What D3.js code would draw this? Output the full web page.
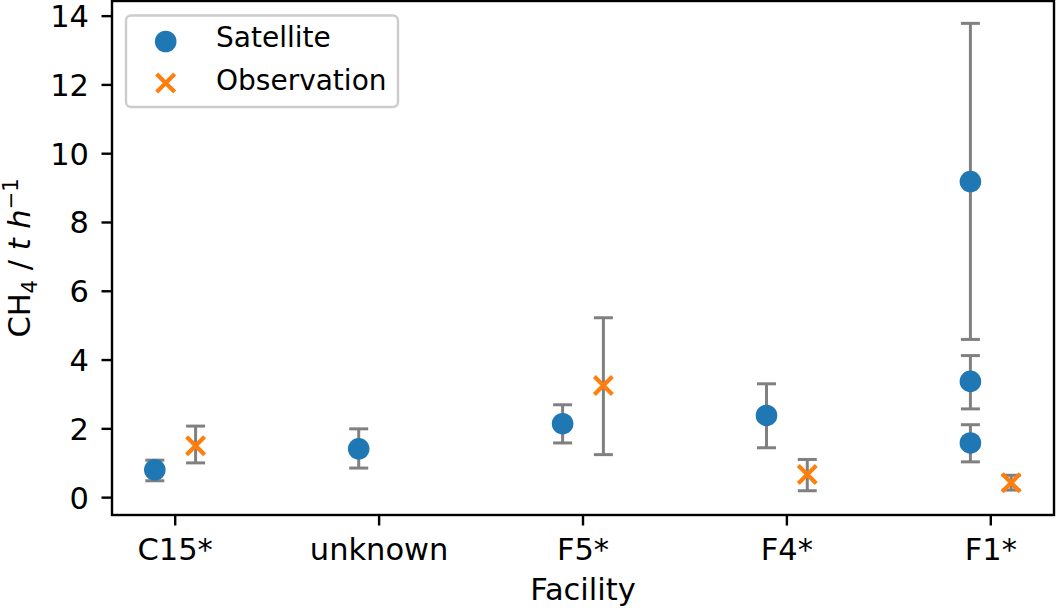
<!DOCTYPE html>
<html>
<head>
<meta charset="utf-8">
<script src="https://cdn.jsdelivr.net/npm/d3@7"></script>
<style>
  body { margin: 0; background: #fff; }
  text { font-family: "DejaVu Sans", sans-serif; fill: #000; }
</style>
</head>
<body>
<svg id="chart" width="1056" height="610"></svg>
<script>
// facilities on the x axis
const categories = ["C15*", "unknown", "F5*", "F4*", "F1*"];

// satellite estimates (index into categories, value, error range)
const satCat = [0, 1, 2, 3, 4, 4, 4];
const satValue = [0.81, 1.42, 2.15, 2.39, 9.19, 3.38, 1.59];
const satLow = [0.49, 0.86, 1.59, 1.45, 4.60, 2.58, 1.04];
const satHigh = [1.09, 2.00, 2.70, 3.31, 13.79, 4.13, 2.12];

// ground observations
const obsCat = [0, 2, 3, 4];
const obsValue = [1.51, 3.26, 0.67, 0.43];
const obsLow = [1.01, 1.25, 0.20, 0.22];
const obsHigh = [2.08, 5.23, 1.11, 0.65];

const yTicks = [0, 2, 4, 6, 8, 10, 12, 14];

const svg = d3.select('#chart');
const pLeft = 112, pRight = 1054, pTop = 1, pBottom = 515;
const fs = 30.5;

let x = d3.scaleLinear().domain([-0.31, 4.31]).range([pLeft, pRight]);
let y = d3.scaleLinear().domain([-0.505, 14.44]).range([pBottom, pTop]);

let sat = satCat.map((c, i) => ({x: c - 0.1, v: satValue[i], lo: satLow[i], hi: satHigh[i]}));
let obs = obsCat.map((c, i) => ({x: c + 0.1, v: obsValue[i], lo: obsLow[i], hi: obsHigh[i]}));

// error bars
const errColor = '#808080';
let drawErr = function (data) {
    let g = svg.append('g').attr('stroke', errColor).attr('stroke-width', 3);
    g.selectAll('line.v').data(data).enter().append('line')
        .attr('x1', d => x(d.x)).attr('x2', d => x(d.x))
        .attr('y1', d => y(d.lo)).attr('y2', d => y(d.hi));
    g.selectAll('line.lo').data(data).enter().append('line')
        .attr('x1', d => x(d.x) - 9.5).attr('x2', d => x(d.x) + 9.5)
        .attr('y1', d => y(d.lo)).attr('y2', d => y(d.lo));
    g.selectAll('line.hi').data(data).enter().append('line')
        .attr('x1', d => x(d.x) - 9.5).attr('x2', d => x(d.x) + 9.5)
        .attr('y1', d => y(d.hi)).attr('y2', d => y(d.hi));
};
drawErr(sat);
drawErr(obs);

// markers
const blue = '#1f77b4', orange = '#ff7f0e';
svg.append('g').selectAll('circle').data(sat).enter().append('circle')
    .attr('cx', d => x(d.x)).attr('cy', d => y(d.v)).attr('r', 10.8)
    .attr('fill', blue);

let cross = function (sel, s) {
    sel.append('path')
       .attr('d', `M${-s},${-s}L${s},${s}M${-s},${s}L${s},${-s}`)
       .attr('stroke', orange).attr('stroke-width', 4.2).attr('fill', 'none');
};
svg.append('g').selectAll('g').data(obs).enter().append('g')
    .attr('transform', d => `translate(${x(d.x)},${y(d.v)})`)
    .call(cross, 9);

// axes frame
svg.append('rect').attr('x', pLeft).attr('y', pTop)
   .attr('width', pRight - pLeft).attr('height', pBottom - pTop)
   .attr('fill', 'none').attr('stroke', '#000').attr('stroke-width', 2.4);

// y axis
let yAxis = svg.append('g');
yAxis.selectAll('line').data(yTicks).enter().append('line')
     .attr('x1', pLeft - 10.5).attr('x2', pLeft)
     .attr('y1', d => y(d)).attr('y2', d => y(d))
     .attr('stroke', '#000').attr('stroke-width', 2.4);
yAxis.selectAll('text').data(yTicks).enter().append('text')
     .attr('x', pLeft - 23).attr('y', d => y(d))
     .attr('dy', '0.36em').attr('text-anchor', 'end')
     .attr('font-size', fs).text(d => d);

// x axis
let xAxis = svg.append('g');
xAxis.selectAll('line').data(categories).enter().append('line')
     .attr('x1', (d, i) => x(i)).attr('x2', (d, i) => x(i))
     .attr('y1', pBottom).attr('y2', pBottom + 10.5)
     .attr('stroke', '#000').attr('stroke-width', 2.4);
xAxis.selectAll('text').data(categories).enter().append('text')
     .attr('x', (d, i) => x(i)).attr('y', 560)
     .attr('text-anchor', 'middle').attr('font-size', fs).text(d => d);

svg.append('text').attr('x', (pLeft + pRight) / 2).attr('y', 600)
   .attr('text-anchor', 'middle').attr('font-size', fs).text('Facility');

// y label: CH4 / t h^-1
let ylab = svg.append('text')
   .attr('transform', `translate(29.5,${(pTop + pBottom) / 2}) rotate(-90)`)
   .attr('text-anchor', 'middle').attr('font-size', fs);
ylab.append('tspan').text('CH');
ylab.append('tspan').attr('font-size', 21).attr('dy', 7).text('4');
ylab.append('tspan').attr('dy', -7).text(' / ');
ylab.append('tspan').attr('font-style', 'italic').text('t h');
ylab.append('tspan').attr('font-size', 21).attr('dy', -12).text('\u22121');

// legend
let legend = svg.append('g');
legend.append('rect').attr('x', 126).attr('y', 15.5)
      .attr('width', 272).attr('height', 91.5).attr('rx', 5)
      .attr('fill', 'rgba(255,255,255,0.8)').attr('stroke', '#cccccc').attr('stroke-width', 2.4);
legend.append('circle').attr('cx', 165.7).attr('cy', 41.5).attr('r', 10.8).attr('fill', blue);
legend.append('g').attr('transform', 'translate(165.7,83)').call(cross, 9);
legend.append('text').attr('x', 216).attr('y', 47.3)
      .attr('font-size', 28).text('Satellite');
legend.append('text').attr('x', 216).attr('y', 90)
      .attr('font-size', 28).text('Observation');
</script>
</body>
</html>
